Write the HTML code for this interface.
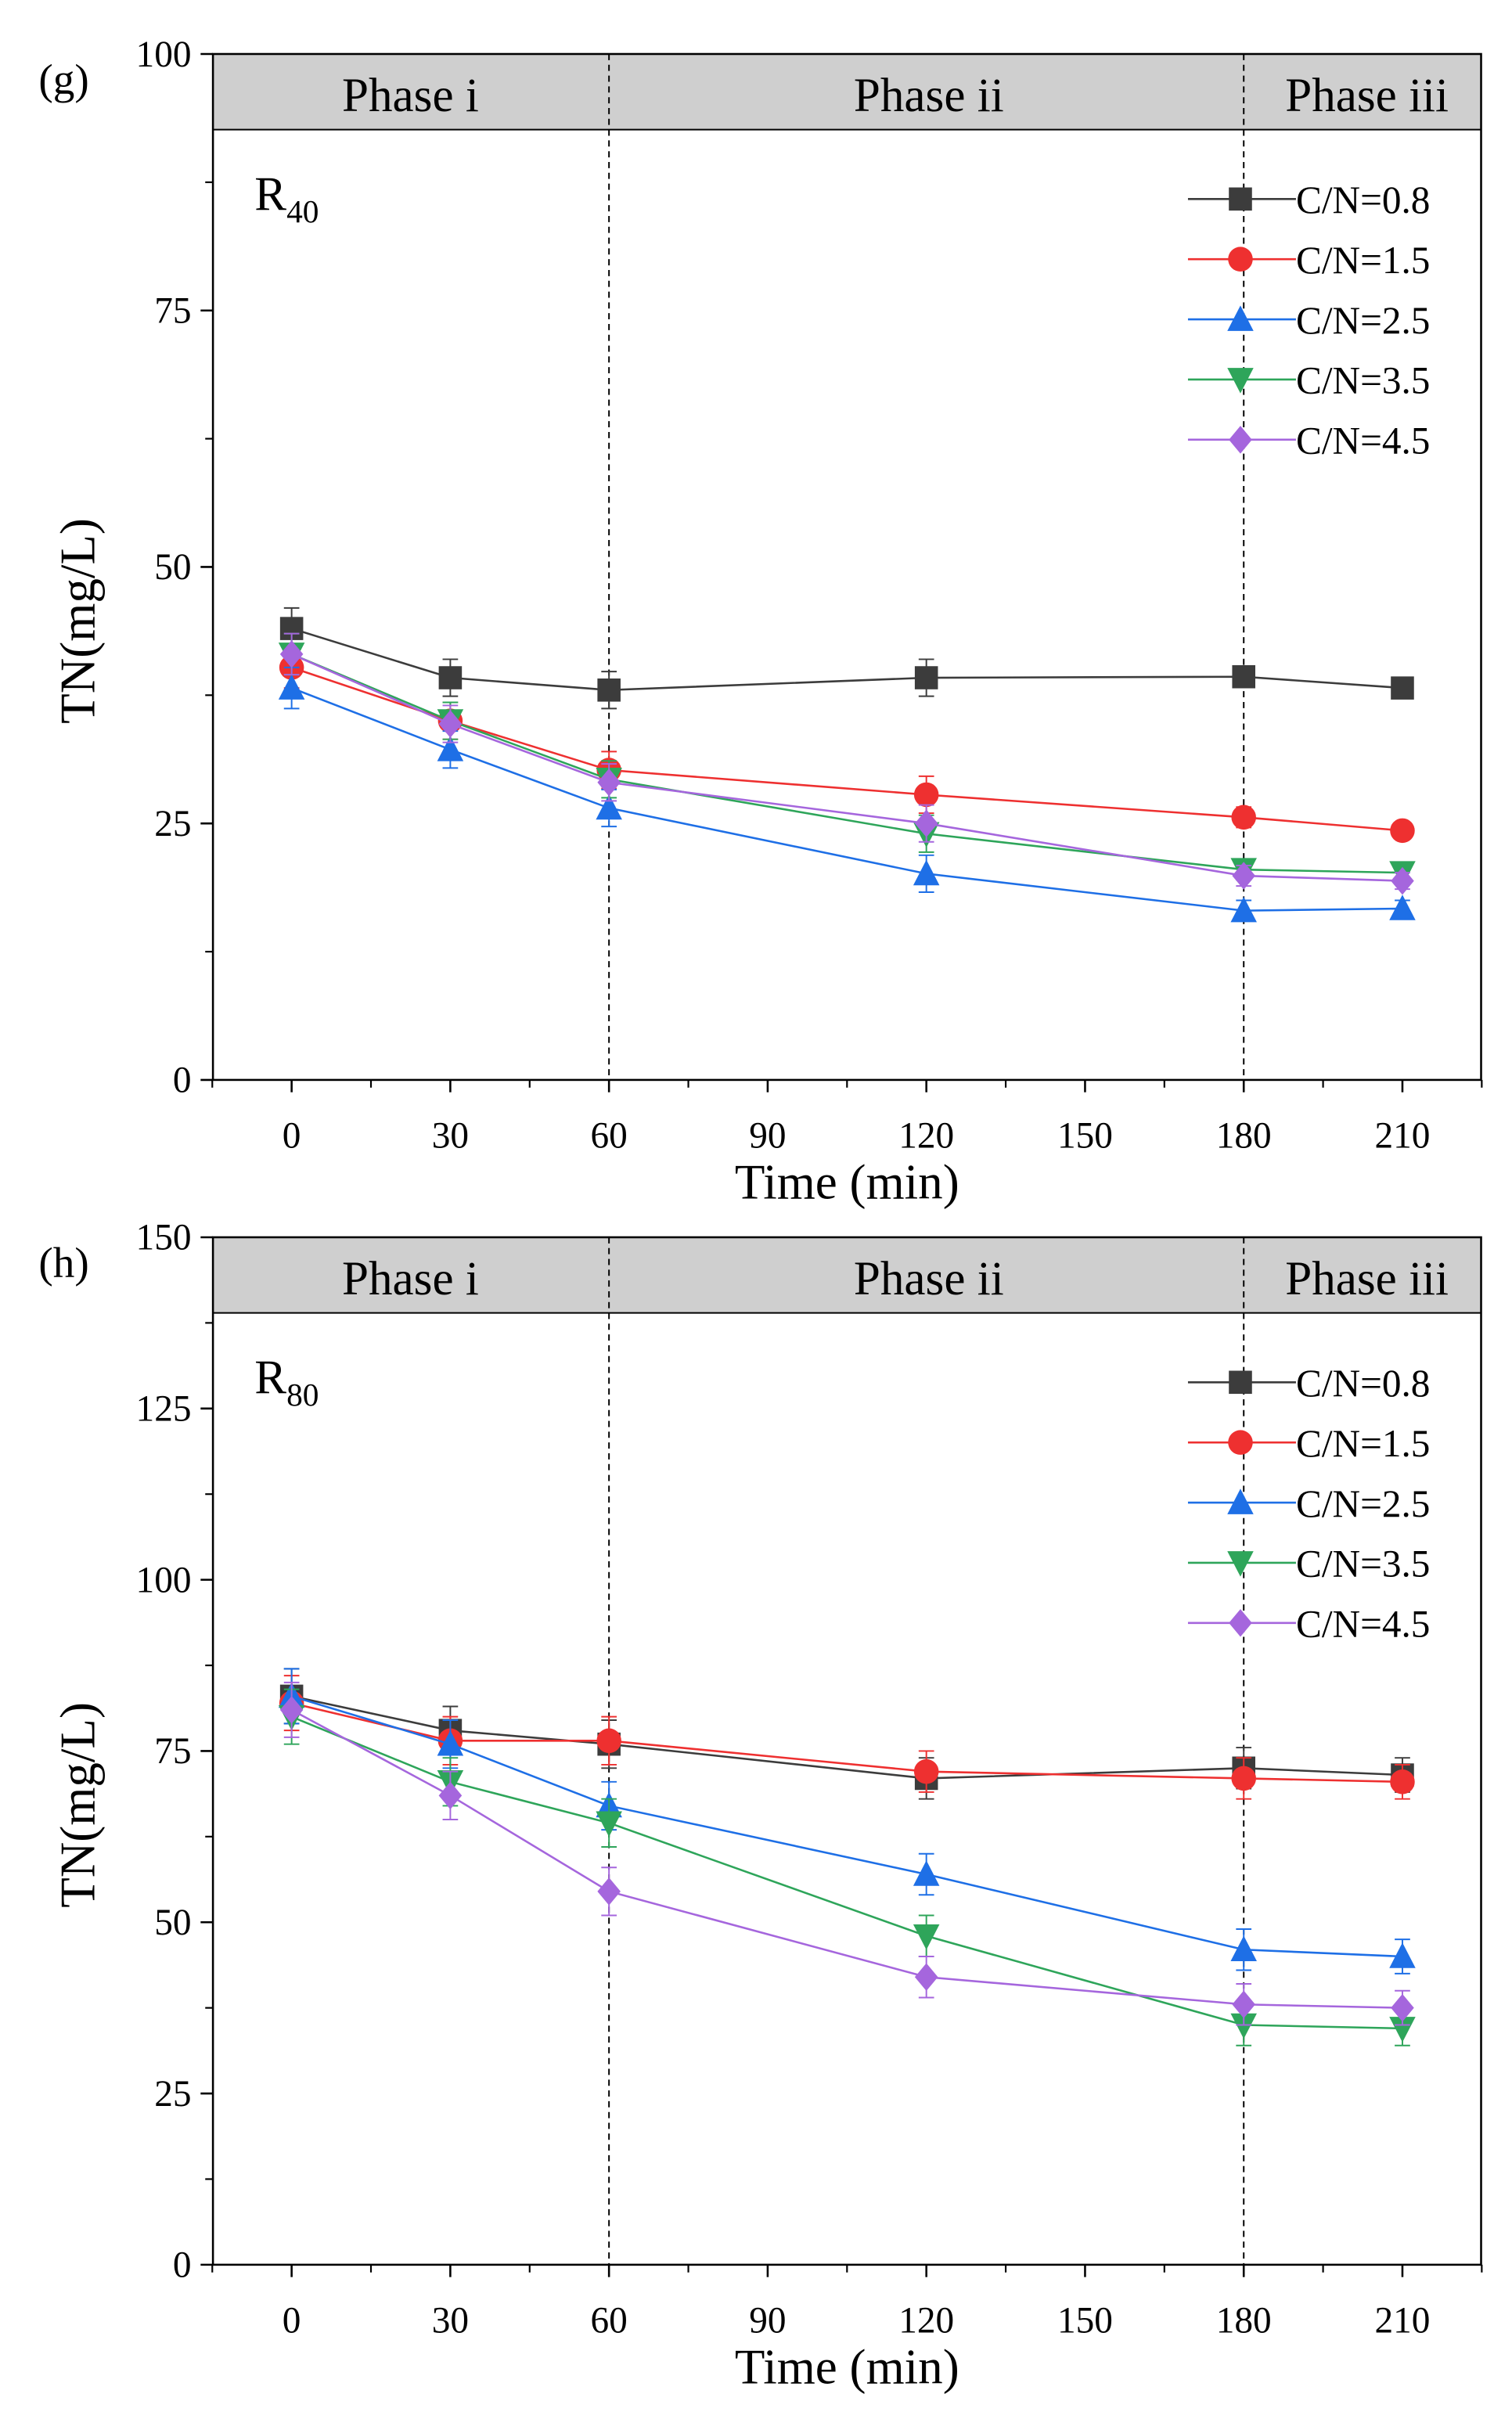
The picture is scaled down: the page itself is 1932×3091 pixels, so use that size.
<!DOCTYPE html>
<html><head><meta charset="utf-8"><style>
html,body{margin:0;padding:0;background:#fff;}
svg{display:block;font-family:"Liberation Serif",serif;}
</style></head><body>
<svg id="fig" width="1932" height="3091" viewBox="0 0 980 1568" xmlns="http://www.w3.org/2000/svg"></svg>
<script>
const times=[0,30,60,120,180,210];
const seriesNames=["C/N=0.8","C/N=1.5","C/N=2.5","C/N=3.5","C/N=4.5"];
const gVals08=[44,39.2,38,39.2,39.3,38.2];
const gVals15=[40.2,35,30.2,27.8,25.6,24.3];
const gVals25=[38.2,32.2,26.5,20.1,16.5,16.7];
const gVals35=[41.5,35,29.3,24,20.5,20.2];
const gVals45=[41.5,34.7,29,25,19.9,19.4];
const gErr=[2,1.8,1.8,1.8,1,0.8];
const hVals08=[83,78,76,71,72.5,71.5];
const hVals15=[82,76.5,76.5,72,71,70.5];
const hVals25=[83,76,67,57,46,45];
const hVals35=[80,70.5,64.5,48,35,34.5];
const hVals45=[81,68.5,54.5,42,38,37.5];
const hErr=[4,3.5,3.5,3,3,2.5];
const xTicks=[0,30,60,90,120,150,180,210];
const gYTicks=[0,25,50,75,100];
const hYTicks=[0,25,50,75,100,125,150];
const colors=["#3c3c3c","#ee3030","#1e6fe6","#2ea55a","#a566dd"];
const markers=["square","circle","tri","tridown","diamond"];
const NS="http://www.w3.org/2000/svg";
const svg=document.getElementById('fig');
function el(tag,attrs,parent,text){const e=document.createElementNS(NS,tag);for(const k in attrs)e.setAttribute(k,attrs[k]);if(text!==undefined)e.textContent=text;(parent||svg).appendChild(e);return e;}
function marker(g,type,x,y,c){let e;const s=7.5;
 if(type==="square")e=el('rect',{x:x-s,y:y-s,width:2*s,height:2*s,fill:c},g);
 else if(type==="circle")e=el('circle',{cx:x,cy:y,r:s+0.5,fill:c},g);
 else if(type==="tri")e=el('polygon',{points:`${x},${y-s-1.5} ${x-s-1},${y+s} ${x+s+1},${y+s}`,fill:c},g);
 else if(type==="tridown")e=el('polygon',{points:`${x},${y+s+1.5} ${x-s-1},${y-s} ${x+s+1},${y-s}`,fill:c},g);
 else e=el('polygon',{points:`${x},${y-s-1.5} ${x+s},${y} ${x},${y+s+1.5} ${x-s},${y}`,fill:c},g);
 return e;}
function panel(cfg){
 const L=138,R=960,T=cfg.top,B=cfg.bottom,HB=T+49;
 const xs=v=>189+(v-0)*(909-189)/210;
 const yS=v=>B-v/cfg.ymax*(B-T);
 const g=el('g',{},svg);
 el('rect',{x:L,y:T,width:R-L,height:HB-T,fill:'#cfcfcf'},g);
 el('rect',{x:L,y:T,width:R-L,height:B-T,fill:'none',stroke:'#000','stroke-width':1.3},g);
 el('line',{x1:L,y1:HB,x2:R,y2:HB,stroke:'#000','stroke-width':1},g);
 [60,180].forEach(t=>{const d=el('line',{x1:xs(t),y1:T,x2:xs(t),y2:B,stroke:'#000','stroke-width':1,'stroke-dasharray':'4,3'},g);});
 [["Phase i",266],["Phase ii",602],["Phase iii",886]].forEach(p=>{const t=el('text',{x:p[1],y:T+37,'font-size':31,'text-anchor':'middle'},g,p[0]);});
 el('text',{x:25,y:T+26,'font-size':28},g,cfg.letter);
 const rl=el('text',{x:165,y:T+101,'font-size':31},g,'R');
 el('tspan',{'font-size':21,dy:8},rl,cfg.sub);
 cfg.yticks.forEach(v=>{const y=yS(v);el('line',{x1:L-8,y1:y,x2:L,y2:y,stroke:'#000','stroke-width':1.3},g);
  const t=el('text',{x:L-14,y:y+8,'font-size':24,'text-anchor':'end'},g,v);});
 for(let i=0;i<cfg.yticks.length-1;i++){const y=yS((cfg.yticks[i]+cfg.yticks[i+1])/2);el('line',{x1:L-5,y1:y,x2:L,y2:y,stroke:'#000','stroke-width':1.1},g);}
 xTicks.forEach(v=>{const x=xs(v);el('line',{x1:x,y1:B,x2:x,y2:B+8,stroke:'#000','stroke-width':1.3},g);
  el('line',{x1:xs(v+15),y1:B,x2:xs(v+15),y2:B+5,stroke:'#000','stroke-width':1.1},g);
  const t=el('text',{x:x,y:B+44,'font-size':24,'text-anchor':'middle'},g,v);});
 el('line',{x1:xs(-15),y1:B,x2:xs(-15),y2:B+5,stroke:'#000','stroke-width':1.1},g);
 el('text',{x:549,y:B+77,'font-size':32,'text-anchor':'middle'},g,'Time (min)');
 el('text',{x:0,y:0,'font-size':32,'text-anchor':'middle',transform:`translate(61,${(T+B)/2+35}) rotate(-90)`},g,'TN(mg/L)');
 cfg.series.forEach((vals,si)=>{const c=colors[si];
  const sg=el('g',{},g);
  el('polyline',{points:vals.map((v,i)=>xs(times[i])+','+yS(v)).join(' '),fill:'none',stroke:c,'stroke-width':1.3},sg);
  vals.forEach((v,i)=>{const x=xs(times[i]),e=cfg.err[i];
   el('line',{x1:x,y1:yS(v+e),x2:x,y2:yS(v-e),stroke:c,'stroke-width':1},sg);
   el('line',{x1:x-5,y1:yS(v+e),x2:x+5,y2:yS(v+e),stroke:c,'stroke-width':1},sg);
   el('line',{x1:x-5,y1:yS(v-e),x2:x+5,y2:yS(v-e),stroke:c,'stroke-width':1},sg);
   const m=marker(sg,markers[si],x,yS(v),c);});
  const ly=T+94+si*39;
  const lg=el('g',{},g);
  el('line',{x1:770,y1:ly,x2:840,y2:ly,stroke:c,'stroke-width':1.3},lg);
  marker(lg,markers[si],804,ly,c);
  el('text',{x:840,y:ly+9,'font-size':25},lg,seriesNames[si]);
 });
}
panel({name:'panel-g',top:35,bottom:700,ymax:100,yticks:gYTicks,letter:'(g)',sub:'40',series:[gVals08,gVals15,gVals25,gVals35,gVals45],err:gErr});
panel({name:'panel-h',top:802,bottom:1468,ymax:150,yticks:hYTicks,letter:'(h)',sub:'80',series:[hVals08,hVals15,hVals25,hVals35,hVals45],err:hErr});
</script>
</body></html>
